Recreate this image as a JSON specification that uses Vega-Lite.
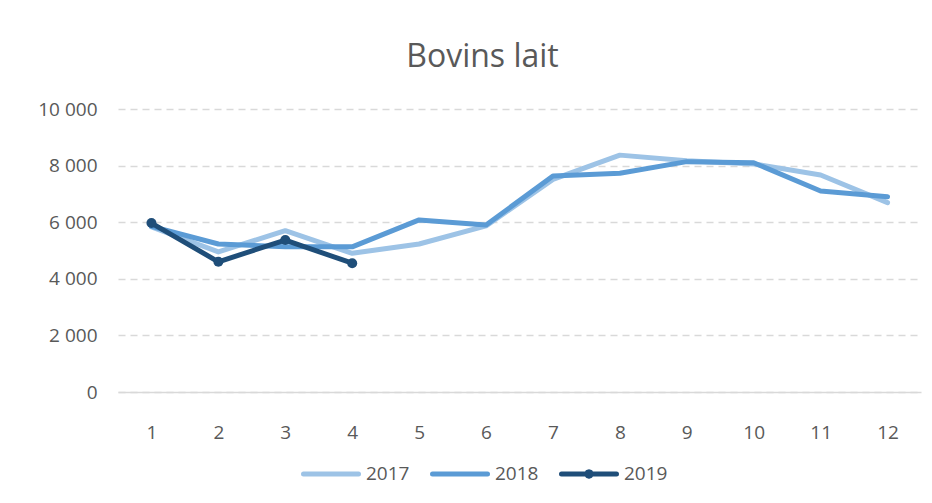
{
  "$schema": "https://vega.github.io/schema/vega-lite/v6.json",
  "autosize": "none",
  "width": 803,
  "height": 283,
  "padding": {"left": 118, "top": 109, "right": 11, "bottom": 111},
  "background": "white",
  "title": {"text": "Bovins lait", "fontSize": 32, "font": "Open Sans", "fontWeight": "normal", "color": "#595959", "anchor": "middle", "offset": 26, "dx": -37},
  "data": {"values": [
    {"mois": 1, "annee": "2017", "valeur": 5830},
    {"mois": 2, "annee": "2017", "valeur": 4950},
    {"mois": 3, "annee": "2017", "valeur": 5700},
    {"mois": 4, "annee": "2017", "valeur": 4900},
    {"mois": 5, "annee": "2017", "valeur": 5230},
    {"mois": 6, "annee": "2017", "valeur": 5870},
    {"mois": 7, "annee": "2017", "valeur": 7510},
    {"mois": 8, "annee": "2017", "valeur": 8370},
    {"mois": 9, "annee": "2017", "valeur": 8170},
    {"mois": 10, "annee": "2017", "valeur": 8060},
    {"mois": 11, "annee": "2017", "valeur": 7670},
    {"mois": 12, "annee": "2017", "valeur": 6690},
    {"mois": 1, "annee": "2018", "valeur": 5850},
    {"mois": 2, "annee": "2018", "valeur": 5230},
    {"mois": 3, "annee": "2018", "valeur": 5130},
    {"mois": 4, "annee": "2018", "valeur": 5130},
    {"mois": 5, "annee": "2018", "valeur": 6080},
    {"mois": 6, "annee": "2018", "valeur": 5900},
    {"mois": 7, "annee": "2018", "valeur": 7630},
    {"mois": 8, "annee": "2018", "valeur": 7730},
    {"mois": 9, "annee": "2018", "valeur": 8140},
    {"mois": 10, "annee": "2018", "valeur": 8100},
    {"mois": 11, "annee": "2018", "valeur": 7100},
    {"mois": 12, "annee": "2018", "valeur": 6900},
    {"mois": 1, "annee": "2019", "valeur": 5970},
    {"mois": 2, "annee": "2019", "valeur": 4600},
    {"mois": 3, "annee": "2019", "valeur": 5370},
    {"mois": 4, "annee": "2019", "valeur": 4550}
  ]},
  "encoding": {
    "x": {"field": "mois", "type": "ordinal", "axis": {"title": null, "labelAngle": 0, "ticks": false, "domainColor": "#D9D9D9", "domainWidth": 1.5, "labelPadding": 31, "labelFontSize": 19, "labelColor": "#595959", "labelFont": "Open Sans", "grid": false}},
    "y": {"field": "valeur", "type": "quantitative", "scale": {"domain": [0, 10000]}, "axis": {"title": null, "values": [0, 2000, 4000, 6000, 8000, 10000], "format": ",d", "domain": false, "ticks": false, "labelPadding": 21, "labelFontSize": 19, "labelColor": "#595959", "labelFont": "Open Sans", "gridColor": "#D9D9D9", "gridDash": [7, 5], "gridWidth": 1.5}},
    "color": {"field": "annee", "type": "nominal", "scale": {"domain": ["2017", "2018", "2019"], "range": ["#9DC3E6", "#5B9BD5", "#1F4E79"]}, "legend": {"title": null, "orient": "none", "legendX": 183, "legendY": 335, "direction": "horizontal", "symbolType": "stroke", "symbolSize": 3025, "symbolStrokeWidth": 5, "labelFontSize": 19, "labelColor": "#595959", "labelFont": "Open Sans", "labelOffset": 5, "columnPadding": 20,
      "encode": {"symbols": {"update": {
        "shape": {"signal": "datum.value == '2019' ? 'M-1,0L1,0M0.08,0L0.057,0.057L0,0.08L-0.057,0.057L-0.08,0L-0.057,-0.057L0,-0.08L0.057,-0.057Z' : 'stroke'"},
        "fill": {"signal": "datum.value == '2019' ? '#1F4E79' : 'transparent'"},
        "strokeCap": {"value": "round"},
        "strokeJoin": {"value": "round"}
      }}}}}
  },
  "layer": [
    {"mark": {"type": "line", "strokeWidth": 5, "strokeCap": "round", "strokeJoin": "round"}},
    {"transform": [{"filter": "datum.annee == '2019'"}], "mark": {"type": "circle", "size": 100, "opacity": 1}}
  ],
  "config": {"view": {"stroke": null}, "locale": {"number": {"decimal": ",", "thousands": " ", "grouping": [3], "currency": ["", " €"]}}}
}
